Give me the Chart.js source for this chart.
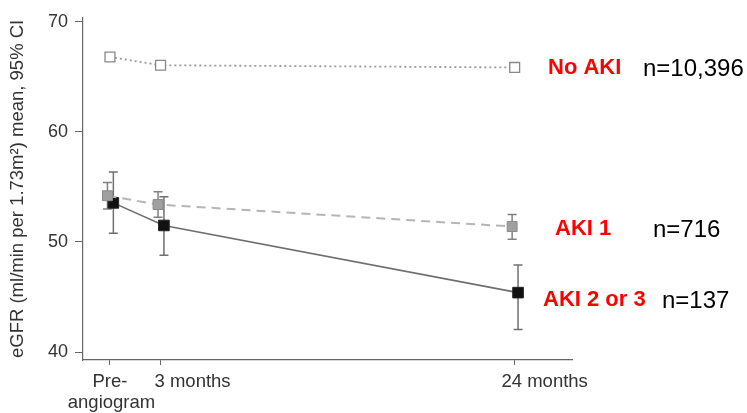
<!DOCTYPE html>
<html>
<head>
<meta charset="utf-8">
<script src="https://cdn.jsdelivr.net/npm/chart.js@4"></script>
<style>
  html, body { margin: 0; padding: 0; background: #ffffff; }
  #wrap { width: 747px; height: 413px; position: relative; }
</style>
</head>
<body>
<div id="wrap"><canvas id="c" width="747" height="413"></canvas></div>
<script>
// ---- data ----
const months = [0, 3, 24];
const xTickLabels = [["Pre-", "angiogram"], "3 months", "24 months"];
const yTicks = [40, 50, 60, 70];

const noAkiMean = [66.8, 66.05, 65.85];

const aki1Mean  = [54.2, 53.4, 51.4];
const aki1Low   = [53.0, 52.25, 50.25];
const aki1High  = [55.4, 54.55, 52.5];

const aki23Mean = [53.55, 51.5, 45.4];
const aki23Low  = [50.8, 48.8, 42.05];
const aki23High = [56.35, 54.1, 47.9];

const seriesNames = ["No AKI", "AKI 1", "AKI 2 or 3"];
const seriesN = ["n=10,396", "n=716", "n=137"];

// ---- styling / layout ----
const dodge = { noAki: 0, aki1: -0.15, aki23: 0.2 }; // small horizontal offsets (months) so markers don't overlap
const axisFont = "'Liberation Sans', Arial, sans-serif";
const textColor = "#333333";
const axisColor = "#666666";

function pts(mean, off) { return months.map((m, i) => ({ x: m + off, y: mean[i] })); }

const errorBars = [
  { datasetIndex: 1, low: aki1Low, high: aki1High, color: "#808080" },
  { datasetIndex: 2, low: aki23Low, high: aki23High, color: "#707070" }
];

const errorBarPlugin = {
  id: 'errorBars',
  beforeDatasetsDraw(chart) {
    const ctx = chart.ctx;
    const ys = chart.scales.y;
    ctx.save();
    errorBars.forEach(eb => {
      const meta = chart.getDatasetMeta(eb.datasetIndex);
      meta.data.forEach((pt, i) => {
        const x = pt.x;
        const yl = ys.getPixelForValue(eb.low[i]);
        const yh = ys.getPixelForValue(eb.high[i]);
        ctx.strokeStyle = eb.color;
        ctx.lineWidth = 1.5;
        ctx.beginPath();
        ctx.moveTo(x, yl); ctx.lineTo(x, yh);
        ctx.moveTo(x - 4.5, yl); ctx.lineTo(x + 4.5, yl);
        ctx.moveTo(x - 4.5, yh); ctx.lineTo(x + 4.5, yh);
        ctx.stroke();
      });
    });
    ctx.restore();
  }
};

const labelsPlugin = {
  id: 'customLabels',
  afterDraw(chart) {
    const ctx = chart.ctx;
    const xs = chart.scales.x;
    const ca = chart.chartArea;
    ctx.save();
    // x tick labels
    ctx.fillStyle = textColor;
    ctx.font = "18.5px " + axisFont;
    ctx.textAlign = 'center';
    ctx.textBaseline = 'middle';
    const labelShift = [0, 32, 30];
    months.forEach((m, i) => {
      const px = xs.getPixelForValue(m) + labelShift[i];
      const lab = xTickLabels[i];
      if (Array.isArray(lab)) {
        lab.forEach((line, k) => ctx.fillText(line, px + k * 1.5, ca.bottom + 22 + k * 21));
      } else {
        ctx.fillText(lab, px, ca.bottom + 22);
      }
    });
    // series annotations
    const ann = [
      { nameX: 548, nX: 643, y: 68 },
      { nameX: 555, nX: 653, y: 229 },
      { nameX: 543, nX: 662, y: 300 }
    ];
    ctx.textAlign = 'left';
    ann.forEach((a, i) => {
      ctx.fillStyle = "#ff0000";
      ctx.font = "bold 22px " + axisFont;
      ctx.fillText(seriesNames[i], a.nameX, a.y);
      ctx.fillStyle = "#000000";
      ctx.font = "24px " + axisFont;
      ctx.fillText(seriesN[i], a.nX, a.y + 1);
    });
    ctx.restore();
  }
};

new Chart(document.getElementById('c'), {
  type: 'line',
  data: {
    datasets: [
      {
        label: seriesNames[0],
        data: pts(noAkiMean, dodge.noAki),
        borderColor: "#9a9a9a",
        borderWidth: 1.8,
        borderDash: [2, 3],
        pointStyle: 'rect',
        pointRadius: 7,
        pointBackgroundColor: "#ffffff",
        pointBorderColor: "#888888",
        pointBorderWidth: 1.3,
        tension: 0
      },
      {
        label: seriesNames[1],
        data: pts(aki1Mean, dodge.aki1),
        borderColor: "#b5b5b5",
        borderWidth: 2,
        borderDash: [9, 6],
        pointStyle: 'rect',
        pointRadius: 7,
        pointBackgroundColor: "#a0a0a0",
        pointBorderColor: "#8a8a8a",
        pointBorderWidth: 1,
        tension: 0
      },
      {
        label: seriesNames[2],
        data: pts(aki23Mean, dodge.aki23),
        borderColor: "#6e6e6e",
        borderWidth: 1.6,
        pointStyle: 'rect',
        pointRadius: 7.5,
        pointBackgroundColor: "#111111",
        pointBorderColor: "#222222",
        pointBorderWidth: 1,
        tension: 0
      }
    ]
  },
  options: {
    responsive: false,
    animation: false,
    events: [],
    layout: { padding: { left: 0, top: 14, right: 175, bottom: 0 } },
    plugins: { legend: { display: false }, tooltip: { enabled: false } },
    scales: {
      x: {
        type: 'linear',
        min: -1.6,
        max: 27.4,
        afterBuildTicks: s => { s.ticks = months.map(v => ({ value: v })); },
        afterFit: s => { s.height = 53; },
        grid: { drawOnChartArea: false, drawTicks: true, tickLength: 5, color: axisColor },
        border: { display: true, color: axisColor, width: 1.2 },
        ticks: { display: false }
      },
      y: {
        min: 39.28,
        max: 70.36,
        afterBuildTicks: s => { s.ticks = yTicks.map(v => ({ value: v })); },
        afterFit: s => { s.width = 83; },
        grid: { drawOnChartArea: false, drawTicks: true, tickLength: 8, color: axisColor },
        border: { display: true, color: axisColor, width: 1.2 },
        ticks: {
          padding: 7,
          color: textColor,
          font: { family: axisFont, size: 18 },
          callback: v => String(v)
        },
        title: {
          display: true,
          text: "eGFR (ml/min per 1.73m\u00B2) mean, 95% CI",
          color: textColor,
          font: { family: axisFont, size: 18.5 },
          padding: { top: 7, bottom: 0 }
        }
      }
    }
  },
  plugins: [errorBarPlugin, labelsPlugin]
});
</script>
</body>
</html>
